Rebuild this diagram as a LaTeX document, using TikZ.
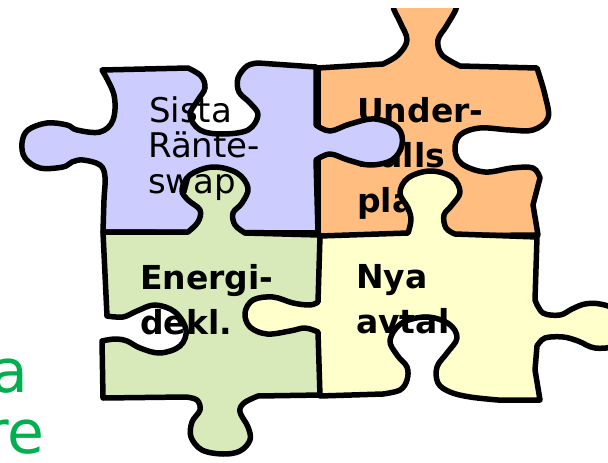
\documentclass[tikz,border=0pt]{standalone}
\usepackage{fontspec}
\setmainfont{DejaVu Sans}
\definecolor{pcPurple}{RGB}{204,204,255}
\definecolor{pcOrange}{RGB}{255,190,128}
\definecolor{pcGreen}{RGB}{216,234,185}
\definecolor{pcYellow}{RGB}{255,255,204}
\definecolor{sideGreen}{RGB}{0,176,80}
\begin{document}
\begin{tikzpicture}[x=1pt,y=-1pt,
  piece/.style={draw=black,line width=5.5pt,line join=round},
  lbl/.style={anchor=base west,inner sep=0pt,font=\fontsize{34}{40}\selectfont},
  blbl/.style={anchor=base west,inner sep=0pt,font=\fontsize{33}{40}\selectfont\bfseries},
  side/.style={anchor=base east,inner sep=0pt,text=sideGreen,font=\fontsize{60}{60}\selectfont}]
\useasboundingbox (0,0) rectangle (608,463);

% top-right piece, its upper knob runs off the top
\begin{scope}
  \clip (0,8) rectangle (608,463);
  \path[piece,fill=pcOrange] (318,68) -- (383,64)
    -- plot[smooth,tension=0.6] coordinates {(383,64) (398,55) (407,40) (400,22) (393,5) (400,-10) (425,-18) (450,-10) (457,5) (447,25) (438,40) (442,55) (460,66)}
    -- (537,68)
    -- plot[smooth,tension=0.6] coordinates {(537,68) (545,95) (548,118) (533,130) (510,130) (480,128) (460,135) (455,150) (462,164) (485,172) (512,168) (533,168) (540,178)}
    -- (533,205) -- (538,235) -- (318,237) -- cycle;
\end{scope}
\node[blbl] (u1) at (357,122) {Under-};
\node[blbl] (u2) at (357,167) {halls};
\node[blbl] (u3) at (357,212) {plan};

% top-left piece
\path[piece,fill=pcPurple] (102,70) -- (188,68)
  -- plot[smooth,tension=0.6] coordinates {(188,68) (201,76) (205,88) (198,100) (190,115) (200,130) (222,134) (248,130) (258,115) (250,103) (239,92) (238,78) (247,66) (258,63)}
  -- (316,67) -- (316,125)
  -- plot[smooth,tension=0.6] coordinates {(316,125) (330,131) (350,124) (375,119) (398,128) (402,145) (392,160) (370,165) (348,160) (330,154) (316,160)}
  -- (318,233) -- (103,232)
  -- plot[smooth,tension=0.6] coordinates {(103,232) (104,200) (105,177) (100,165) (83,160) (72,162) (63,167) (40,168) (25,158) (22,143) (28,130) (47,123) (67,125) (77,130) (100,132) (113,120) (114,95) (102,70)}
  -- cycle;

% bottom-left piece
\path[piece,fill=pcGreen] (103,232) -- (188,232)
  -- plot[smooth,tension=0.6] coordinates {(188,232) (198,222) (200,210) (188,200) (182,190) (190,175) (213,167) (237,173) (248,188) (242,203) (233,213) (235,225) (245,233)}
  -- (320,235) -- (322,395) -- (258,396)
  -- plot[smooth,tension=0.6] coordinates {(258,396) (244,403) (240,412) (248,427) (250,440) (240,451) (223,454) (202,450) (191,437) (192,422) (200,410) (197,400) (186,397)}
  -- (103,398) -- (102,341)
  -- plot[smooth,tension=0.6] coordinates {(102,341) (115,339) (127,341) (140,348) (160,353) (180,346) (186,330) (175,312) (155,305) (137,311) (123,317) (107,316)}
  -- cycle;

% bottom-right piece
\path[piece,fill=pcYellow] (320,236) -- (408,233)
  -- plot[smooth,tension=0.6] coordinates {(408,233) (411,220) (408,208) (400,193) (408,178) (430,171) (452,177) (460,192) (452,205) (444,215) (446,228) (455,234)}
  -- (537,237) -- (535,300)
  -- plot[smooth,tension=0.6] coordinates {(535,300) (543,313) (560,315) (572,309) (585,304) (600,304) (615,310) (622,327) (615,345) (595,348) (578,341) (563,337) (545,338) (537,346)}
  -- (535,370) -- (540,400) -- (498,400)
  -- plot[smooth,tension=0.6] coordinates {(498,400) (470,397) (450,392) (438,383) (437,367) (447,353) (457,338) (449,324) (427,317) (402,323) (390,340) (397,355) (407,367) (407,380) (400,390) (383,394)}
  -- (320,396) -- (318,332)
  -- plot[smooth,tension=0.6] coordinates {(318,332) (305,328) (290,331) (267,334) (250,327) (245,313) (253,300) (273,297) (293,303) (310,305) (318,302)}
  -- cycle;

% labels
\node[lbl] (s1) at (149,122) {Sista};
\node[lbl] (s2) at (148,157.5) {Ränte-};
\node[lbl] (s3) at (148,193) {swap};
\node[blbl] (e1) at (140,289) {Energi-};
\node[blbl] (e2) at (140,334) {dekl.};
\node[blbl] (n1) at (356,288) {Nya};
\node[blbl] (n2) at (356,333) {avtal};

% words running in from the left margin
\node[side] (w1) at (28,392) {a};
\node[side] (w2) at (45,453) {re};
\end{tikzpicture}
\end{document}
